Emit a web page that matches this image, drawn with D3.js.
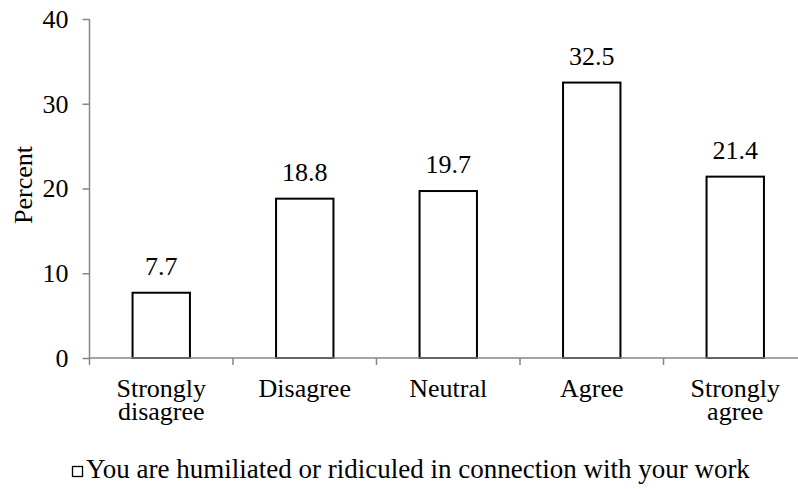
<!DOCTYPE html>
<html>
<head>
<meta charset="utf-8">
<script src="https://cdn.jsdelivr.net/npm/d3@7/dist/d3.min.js"></script>
<style>
  body { margin: 0; background: #fff; }
  text { font-family: "Liberation Serif", "Times New Roman", serif; fill: #000; }
</style>
</head>
<body>
<svg id="chart" width="798" height="489"></svg>
<script>
// Data
var categories = [["Strongly", "disagree"], ["Disagree"], ["Neutral"], ["Agree"], ["Strongly", "agree"]];
var values = [7.7, 18.8, 19.7, 32.5, 21.4];
var yTicks = [0, 10, 20, 30, 40];
var seriesName = "You are humiliated or ridiculed in connection with your work";
var yTitle = "Percent";

// Layout
var margin = {left: 89.5, right: 807, top: 19, bottom: 358};
var fontSize = 26;
var axisColor = "#868686";

var svg = d3.select("svg#chart");

var x = d3.scaleBand().domain(d3.range(categories.length)).range([margin.left, margin.right]).paddingInner(0.6).paddingOuter(0.3);
var xCat = d3.scaleBand().domain(d3.range(categories.length)).range([margin.left, margin.right]);
var y = d3.scaleLinear().domain([0, 40]).range([margin.bottom, margin.top]);

// Bars
svg.append("g").selectAll("rect").data(values).enter().append("rect")
    .attr("x", function(d, i) { return x(i); })
    .attr("y", function(d) { return y(d); })
    .attr("width", x.bandwidth())
    .attr("height", function(d) { return y(0) - y(d); })
    .attr("fill", "#fff").attr("stroke", "#000").attr("stroke-width", 2);

// Value labels
svg.append("g").selectAll("text").data(values).enter().append("text")
    .attr("x", function(d, i) { return x(i) + x.bandwidth() / 2; })
    .attr("y", function(d) { return y(d) - 18; })
    .attr("text-anchor", "middle").style("font-size", fontSize + "px")
    .text(function(d) { return d.toFixed(1); });

// Y axis
var yAxis = d3.axisLeft(y).tickValues(yTicks).tickSize(7).tickPadding(14);
var gy = svg.append("g").attr("transform", "translate(" + margin.left + ",0)").call(yAxis);
gy.select(".domain").attr("stroke", axisColor).attr("stroke-width", 1.5).attr("d", "M0," + margin.bottom + "V" + margin.top);
gy.selectAll(".tick line").attr("stroke", axisColor).attr("stroke-width", 1.5);
gy.selectAll(".tick text").style("font-size", fontSize + "px").attr("font-family", null).attr("fill", "#000");

// X axis with ticks at category boundaries
var gx = svg.append("g");
gx.append("line").attr("x1", margin.left).attr("x2", margin.right).attr("y1", margin.bottom).attr("y2", margin.bottom)
    .attr("stroke", axisColor).attr("stroke-width", 1.5);
gx.selectAll("line.tick").data(d3.range(categories.length + 1)).enter().append("line")
    .attr("class", "tick")
    .attr("x1", function(i) { return margin.left + i * xCat.step(); })
    .attr("x2", function(i) { return margin.left + i * xCat.step(); })
    .attr("y1", margin.bottom).attr("y2", margin.bottom + 7)
    .attr("stroke", axisColor).attr("stroke-width", 1.5);

var labels = gx.selectAll("text.cat").data(categories).enter().append("text")
    .attr("class", "cat")
    .attr("text-anchor", "middle").style("font-size", fontSize + "px");
labels.selectAll("tspan").data(function(d, i) { return d.map(function(t) { return {t: t, i: i}; }); })
    .enter().append("tspan")
    .attr("x", function(d) { return xCat(d.i) + xCat.bandwidth() / 2; })
    .attr("y", function(d, j) { return 397 + j * 23; })
    .text(function(d) { return d.t; });

// Y title
svg.append("text").attr("transform", "translate(32,185) rotate(-90)")
    .attr("text-anchor", "middle").style("font-size", fontSize + "px").text(yTitle);

// Legend
var legend = svg.append("g");
legend.append("rect").attr("x", 72.5).attr("y", 466.5).attr("width", 10).attr("height", 10)
    .attr("fill", "#fff").attr("stroke", "#000").attr("stroke-width", 1.3);
legend.append("text").attr("x", 86).attr("y", 478).style("font-size", "27px").text(seriesName);
</script>
</body>
</html>
